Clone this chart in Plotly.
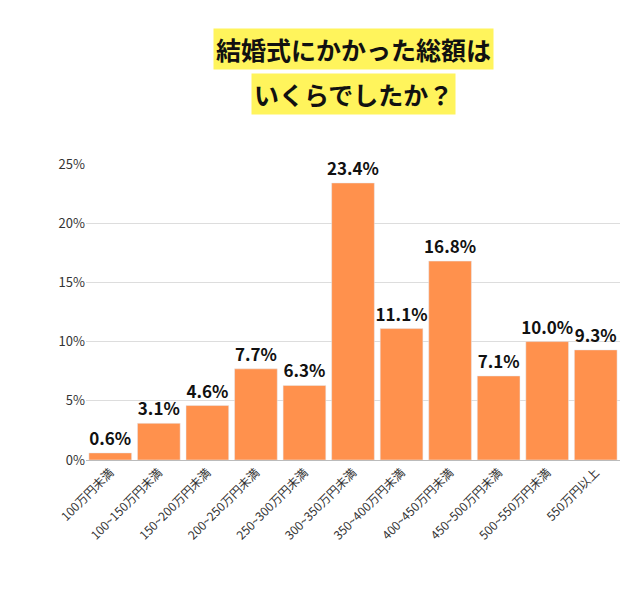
import plotly.graph_objects as go

categories = ["100万円未満", "100~150万円未満", "150~200万円未満", "200~250万円未満", "250~300万円未満",
              "300~350万円未満", "350~400万円未満", "400~450万円未満", "450~500万円未満", "500~550万円未満", "550万円以上"]
values = [0.6, 3.1, 4.6, 7.7, 6.3, 23.4, 11.1, 16.8, 7.1, 10.0, 9.3]
labels = [f"<b>{v:.1f}%</b>" for v in values]

font = "Noto Sans CJK JP"
fig = go.Figure(go.Bar(
    x=categories, y=values, text=labels, textposition="outside",
    textfont=dict(size=17, color="#111", family=font),
    marker_color="#FF914D", width=0.88, cliponaxis=False,
))
ph = 600 - 156 - 148
def py(px):
    return 1 + (156 - px) / ph
fig.update_layout(
    width=640, height=600, plot_bgcolor="white", paper_bgcolor="white",
    margin=dict(l=78, r=28, t=156, b=148), showlegend=False,
    font=dict(family=font, color="#333"),
    uniformtext=dict(minsize=17, mode="show"),
    yaxis=dict(range=[0, 25], dtick=5, ticksuffix="%", showgrid=True, gridcolor="#ddd",
               tickfont=dict(size=13, color="#333"), zeroline=False, automargin=False),
    xaxis=dict(tickangle=-45, tickfont=dict(size=12, color="#333"), showline=True, linecolor="#bbb",
               automargin=False),
    annotations=[
        dict(text="<b>結婚式にかかった総額は</b>", x=0.5, xref="paper", y=py(41), yref="paper",
             yanchor="middle", showarrow=False,
             font=dict(size=25, color="#111", family=font), bgcolor="#FFF45C", borderpad=2),
        dict(text="<b>いくらでしたか？</b>", x=0.5, xref="paper", y=py(86), yref="paper",
             yanchor="middle", showarrow=False,
             font=dict(size=25, color="#111", family=font), bgcolor="#FFF45C", borderpad=2),
    ],
)
fig.write_html("out.html")
